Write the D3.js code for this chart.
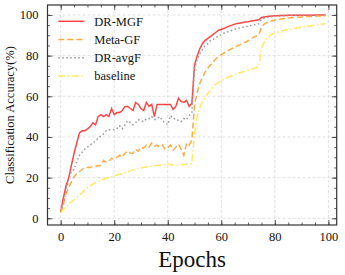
<!DOCTYPE html>
<html>
<head>
<meta charset="utf-8">
<script src="https://cdn.jsdelivr.net/npm/d3@7"></script>
<style>
  body { margin: 0; background: #fff; }
  svg { display: block; font-family: "Liberation Serif", "DejaVu Serif", serif; }
</style>
</head>
<body>
<div id="box"></div>
<script>
var width = 345;
var height = 275;

// epochs 0..99
var epochs = d3.range(0, 100);

var drMGF = [3.2, 10, 16, 20, 26, 32, 37, 42, 43, 43,
  44, 45, 47, 46, 50, 51, 50, 51, 50, 54,
  51, 52, 52, 53, 55, 55, 54, 53, 57, 56,
  54, 53, 57, 55, 56, 50, 56, 56, 56, 56,
  56, 56, 53.5, 55, 59, 57.5, 57, 58, 55, 56.5,
  75.5, 80, 83.5, 86, 87.5, 88.5, 89.5, 90.5, 91.5, 92.5,
  93, 93.3, 94, 94.5, 95, 95.5, 95.8, 96, 96.3, 96.5,
  96.7, 97, 97.2, 97.4, 97.6, 98.8, 99, 99.2, 99.4, 99.5,
  99.6, 99.6, 99.7, 99.7, 99.7, 99.8, 99.8, 99.8, 99.8, 99.8,
  99.9, 99.9, 99.9, 99.9, 99.9, 100, 100, 100, 100, 100];

var metaGF = [3, 7, 12, 15, 18, 20.5, 22, 23, 24, 25,
  25, 25, 25.5, 25.5, 26, 26, 28.5, 27.5, 28, 29.5,
  29, 30, 31, 30, 32, 33, 32, 32, 34, 33,
  35, 34.5, 36, 35, 37, 35.5, 36, 35, 36, 34,
  34.5, 36, 33.5, 35, 36.5, 34, 31, 37, 36, 38.5,
  56, 62, 66.5, 69.5, 72, 74, 75.5, 77, 78.5, 79.5,
  80.5, 81.3, 82, 82.8, 83.5, 84.2, 84.8, 85.4, 86, 86.6,
  87.3, 88, 89, 89.6, 90.2, 94, 95.5, 96.2, 96.8, 97.2,
  97.5, 97.7, 97.9, 98.1, 98.3, 98.5, 98.6, 98.7, 98.8, 98.9,
  99, 99.1, 99.2, 99.3, 99.3, 99.4, 99.5, 99.5, 99.6, 99.7];

var drAvgF = [3, 7, 14, 19, 23, 24, 28, 31, 32.5, 34,
  35, 36, 37, 38, 39.5, 40.5, 41.5, 43, 43.5, 43.5,
  43.5, 44, 45.5, 44, 46, 48, 47, 46, 47, 48.5,
  48, 47.5, 49, 49, 50, 48.5, 49, 50, 48, 47,
  46, 50.5, 49, 49, 48, 47.5, 49, 48.5, 50.5, 52,
  74, 78, 81, 83, 85, 86, 87.5, 88, 89, 89.5,
  90.5, 91, 91.5, 92, 92.5, 93, 93.3, 93.6, 94, 94.2,
  94.5, 94.8, 95.1, 95.3, 95.6, 97.8, 98.4, 98.8, 99, 99.2,
  99.4, 99.5, 99.5, 99.6, 99.6, 99.7, 99.7, 99.7, 99.8, 99.8,
  99.8, 99.8, 99.9, 99.9, 99.9, 99.9, 99.9, 100, 100, 100];

var baseline = [2.5, 4.5, 5.5, 7, 8, 9, 10, 11.5, 12.5, 14,
  15, 16, 16.8, 17.5, 18, 18.5, 19.2, 19.7, 20.2, 20.5,
  21, 21.3, 21.7, 22, 22.3, 22.8, 23.3, 23.8, 24.2, 24.5,
  24.8, 25, 25.2, 25.4, 25.6, 25.8, 26, 26.1, 26.2, 26.6,
  26.8, 26.5, 26.2, 26.3, 26.2, 26.4, 26.5, 26.6, 26.8, 27,
  42, 50, 54.5, 57.5, 59.5, 61.5, 63, 64.5, 66, 67,
  67.8, 68.4, 69, 69.6, 70.1, 70.6, 71.1, 71.6, 72, 72.4,
  72.8, 73.2, 73.6, 74, 74.5, 83.5, 86.5, 88.5, 89.8, 90.6,
  91.2, 91.6, 92, 92.3, 92.6, 92.9, 93.1, 93.3, 93.5, 93.8,
  94, 94.2, 94.4, 94.6, 94.8, 95, 95.2, 95.4, 95.6, 95.8];

var seriesNames = ["DR-MGF", "Meta-GF", "DR-avgF", "baseline"];
var seriesValues = [drMGF, metaGF, drAvgF, baseline];
var xTicks = [0, 20, 40, 60, 80, 100];
var yTicks = [0, 20, 40, 60, 80, 100];

var styles = [
  { color: "#ff4545", dash: null },
  { color: "#ffab45", dash: "6,3" },
  { color: "#9a9a9a", dash: "1.5,2.5" },
  { color: "#ffe861", dash: "7,2.5,1.5,2.5" }
];

var margin = { left: 47.5, top: 5, right: 8.3, bottom: 50 };
var pw = width - margin.left - margin.right;
var ph = height - margin.top - margin.bottom;

var svg = d3.select("#box").append("svg")
  .attr("width", width)
  .attr("height", height);

var g = svg.append("g")
  .attr("transform", "translate(" + margin.left + "," + margin.top + ")");

var x = d3.scaleLinear().domain([-4.93, 103.1]).range([0, pw]);
var y = d3.scaleLinear().domain([-3.3, 104.9]).range([ph, 0]);

// grid
g.append("g").selectAll("line").data(xTicks).enter().append("line")
  .attr("x1", function(d) { return x(d); })
  .attr("x2", function(d) { return x(d); })
  .attr("y1", 0).attr("y2", ph)
  .attr("stroke", "#d9d9d9").attr("stroke-width", 0.8)
  .attr("stroke-dasharray", "3,2");
g.append("g").selectAll("line").data(yTicks).enter().append("line")
  .attr("y1", function(d) { return y(d); })
  .attr("y2", function(d) { return y(d); })
  .attr("x1", 0).attr("x2", pw)
  .attr("stroke", "#d9d9d9").attr("stroke-width", 0.8)
  .attr("stroke-dasharray", "3,2");

// lines
var line = d3.line()
  .x(function(d, i) { return x(epochs[i]); })
  .y(function(d) { return y(d); });

seriesValues.forEach(function(vals, i) {
  g.append("path")
    .datum(vals)
    .attr("fill", "none")
    .attr("stroke", styles[i].color)
    .attr("stroke-width", 1.5)
    .attr("stroke-dasharray", styles[i].dash)
    .attr("d", line);
});

// axes, ticks pointing inward on all four sides
var minorX = d3.range(0, 105, 5);
var minorY = d3.range(0, 105, 5);

function styleAxis(sel) {
  sel.select(".domain").remove();
  sel.selectAll(".tick line").attr("stroke", "#333").attr("stroke-width", 0.8);
  sel.selectAll(".tick text")
    .attr("fill", "#111")
    .style("font-family", "Liberation Serif, serif")
    .style("font-size", "12.5px");
}

g.append("g").attr("transform", "translate(0," + ph + ")")
  .call(d3.axisBottom(x).tickValues(minorX).tickSize(-2.5).tickFormat(""))
  .call(styleAxis);
g.append("g").attr("transform", "translate(0," + ph + ")")
  .call(d3.axisBottom(x).tickValues(xTicks).tickSize(-5).tickPadding(7).tickFormat(d3.format("d")))
  .call(styleAxis);
g.append("g")
  .call(d3.axisTop(x).tickValues(minorX).tickSize(-2.5).tickFormat(""))
  .call(styleAxis);
g.append("g")
  .call(d3.axisTop(x).tickValues(xTicks).tickSize(-5).tickFormat(""))
  .call(styleAxis);

g.append("g")
  .call(d3.axisLeft(y).tickValues(minorY).tickSize(-2.5).tickFormat(""))
  .call(styleAxis);
g.append("g")
  .call(d3.axisLeft(y).tickValues(yTicks).tickSize(-5).tickPadding(9).tickFormat(d3.format("d")))
  .call(styleAxis);
g.append("g").attr("transform", "translate(" + pw + ",0)")
  .call(d3.axisRight(y).tickValues(minorY).tickSize(-2.5).tickFormat(""))
  .call(styleAxis);
g.append("g").attr("transform", "translate(" + pw + ",0)")
  .call(d3.axisRight(y).tickValues(yTicks).tickSize(-5).tickFormat(""))
  .call(styleAxis);

// frame
g.append("rect")
  .attr("width", pw).attr("height", ph)
  .attr("fill", "none").attr("stroke", "#333").attr("stroke-width", 1.2);

// legend
var legend = g.append("g").attr("transform", "translate(" + 10.8 + "," + 16.3 + ")");
seriesNames.forEach(function(name, i) {
  var row = legend.append("g").attr("transform", "translate(0," + (i * 18.2) + ")");
  row.append("line")
    .attr("x1", 0).attr("x2", 26)
    .attr("y1", 0).attr("y2", 0)
    .attr("stroke", styles[i].color)
    .attr("stroke-width", 1.5)
    .attr("stroke-dasharray", styles[i].dash);
  row.append("text")
    .attr("x", 36).attr("y", 4.3)
    .attr("fill", "#111")
    .style("font-size", "12.5px")
    .text(name);
});

// axis titles
svg.append("text")
  .attr("x", margin.left + pw / 2)
  .attr("y", 267)
  .attr("text-anchor", "middle")
  .attr("fill", "#111")
  .style("font-size", "23px")
  .text("Epochs");

svg.append("text")
  .attr("transform", "translate(14," + (margin.top + ph / 2) + ") rotate(-90)")
  .attr("text-anchor", "middle")
  .attr("fill", "#111")
  .style("font-size", "12.5px")
  .text("Classification Accuracy(%)");
</script>
</body>
</html>
